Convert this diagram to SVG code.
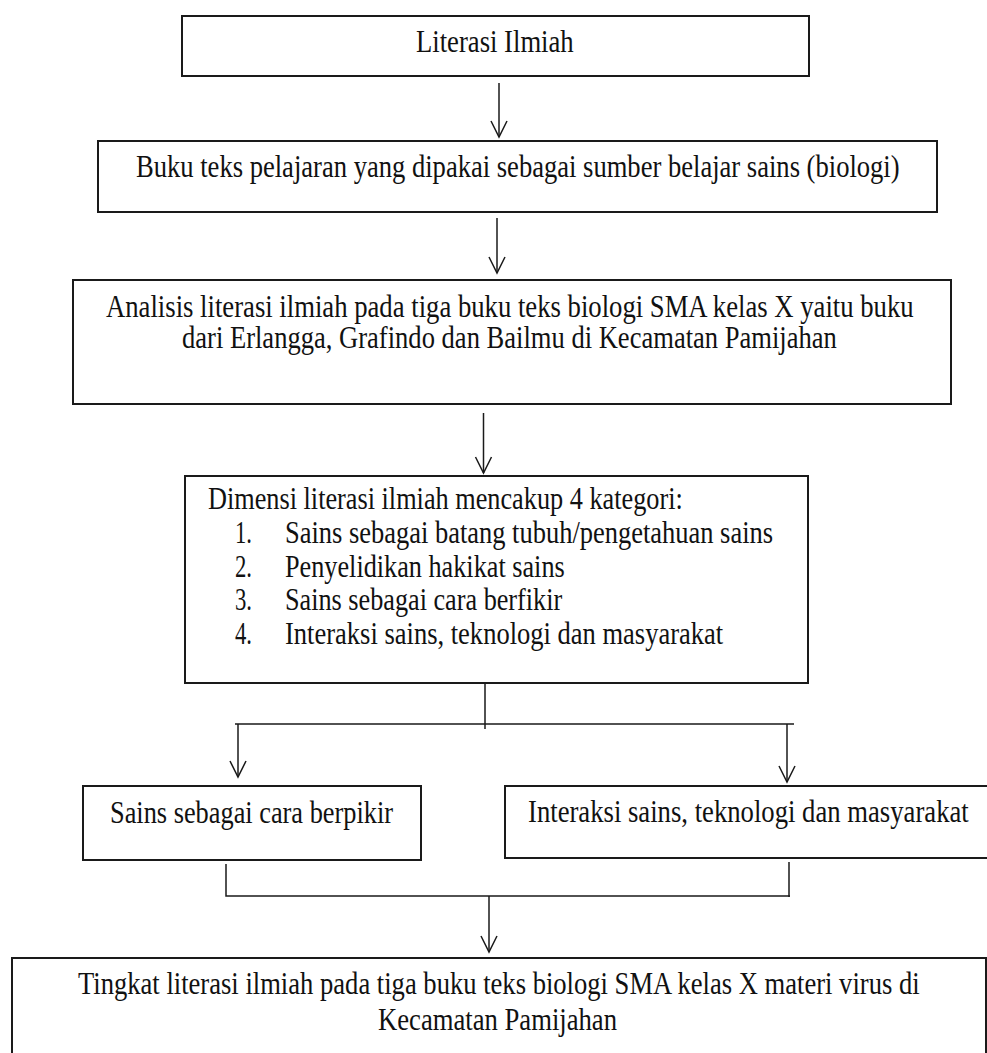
<svg xmlns="http://www.w3.org/2000/svg" width="987" height="1053" viewBox="0 0 987 1053">
<style>
.box{fill:#fff;stroke:#1a1a1a;stroke-width:2}
.t{font-family:"Liberation Serif","Times New Roman",serif;font-size:31px;fill:#111}
.c{fill:none;stroke:#1a1a1a;stroke-width:1.5}
</style>
<defs>
<marker id="ah" viewBox="-18 -10 20 20" refX="0" refY="0" markerWidth="20" markerHeight="20" markerUnits="userSpaceOnUse" orient="auto">
<path d="M-16,-8 L0,0 L-16,8" fill="none" stroke="#1a1a1a" stroke-width="1.5"/>
</marker>
</defs>
<rect width="987" height="1053" fill="#fff"/>
<g id="connectors">
<path class="c" d="M499,83 V137" marker-end="url(#ah)"/>
<path class="c" d="M497,218 V273" marker-end="url(#ah)"/>
<path class="c" d="M483.5,413 V473" marker-end="url(#ah)"/>
<path class="c" d="M485,683 V729 M235,724 H794"/>
<path class="c" d="M238,724 V777" marker-end="url(#ah)"/>
<path class="c" d="M787,724 V782" marker-end="url(#ah)"/>
<path class="c" d="M226,864 V896 H790 M789,862 V897"/>
<path class="c" d="M489,896 V952" marker-end="url(#ah)"/>
</g>
<g id="n1">
<rect class="box" x="182" y="16" width="627" height="60"/>
<text class="t" transform="translate(416,52) scale(0.83,1)" textLength="190" lengthAdjust="spacingAndGlyphs">Literasi Ilmiah</text>
</g>
<g id="n2">
<rect class="box" x="98" y="141" width="839" height="71"/>
<text class="t" transform="translate(136,177) scale(0.83,1)" textLength="920" lengthAdjust="spacingAndGlyphs">Buku teks pelajaran yang dipakai sebagai sumber belajar sains (biologi)</text>
</g>
<g id="n3">
<rect class="box" x="73" y="280" width="878" height="124"/>
<text class="t" transform="translate(106,317) scale(0.83,1)" textLength="973" lengthAdjust="spacingAndGlyphs">Analisis literasi ilmiah pada tiga buku teks biologi SMA kelas X yaitu buku</text>
<text class="t" transform="translate(182,348) scale(0.83,1)" textLength="789" lengthAdjust="spacingAndGlyphs">dari Erlangga, Grafindo dan Bailmu di Kecamatan Pamijahan</text>
</g>
<g id="n4">
<rect class="box" x="185" y="476" width="623" height="207"/>
<text class="t" transform="translate(208,509) scale(0.83,1)" textLength="572" lengthAdjust="spacingAndGlyphs">Dimensi literasi ilmiah mencakup 4 kategori:</text>
<text class="t" transform="translate(235,543) scale(0.83,1)" textLength="20.5" lengthAdjust="spacingAndGlyphs">1.</text>
<text class="t" transform="translate(285,543) scale(0.83,1)" textLength="588" lengthAdjust="spacingAndGlyphs">Sains sebagai batang tubuh/pengetahuan sains</text>
<text class="t" transform="translate(235,577) scale(0.83,1)" textLength="20.5" lengthAdjust="spacingAndGlyphs">2.</text>
<text class="t" transform="translate(285,577) scale(0.83,1)" textLength="337" lengthAdjust="spacingAndGlyphs">Penyelidikan hakikat sains</text>
<text class="t" transform="translate(235,610) scale(0.83,1)" textLength="20.5" lengthAdjust="spacingAndGlyphs">3.</text>
<text class="t" transform="translate(285,610) scale(0.83,1)" textLength="334" lengthAdjust="spacingAndGlyphs">Sains sebagai cara berfikir</text>
<text class="t" transform="translate(235,644) scale(0.83,1)" textLength="20.5" lengthAdjust="spacingAndGlyphs">4.</text>
<text class="t" transform="translate(285,644) scale(0.83,1)" textLength="528" lengthAdjust="spacingAndGlyphs">Interaksi sains, teknologi dan masyarakat</text>
</g>
<g id="n5">
<rect class="box" x="83" y="786" width="338" height="74"/>
<text class="t" transform="translate(110,823) scale(0.83,1)" textLength="341" lengthAdjust="spacingAndGlyphs">Sains sebagai cara berpikir</text>
</g>
<g id="n6">
<rect class="box" x="505" y="786" width="520" height="72"/>
<text class="t" transform="translate(528,822) scale(0.83,1)" textLength="531" lengthAdjust="spacingAndGlyphs">Interaksi sains, teknologi dan masyarakat</text>
</g>
<g id="n7">
<rect class="box" x="12" y="958" width="974" height="120"/>
<text class="t" transform="translate(78,994) scale(0.83,1)" textLength="1014" lengthAdjust="spacingAndGlyphs">Tingkat literasi ilmiah pada tiga buku teks biologi SMA kelas X materi virus di</text>
<text class="t" transform="translate(378,1030) scale(0.83,1)" textLength="288" lengthAdjust="spacingAndGlyphs">Kecamatan Pamijahan</text>
</g>
</svg>
